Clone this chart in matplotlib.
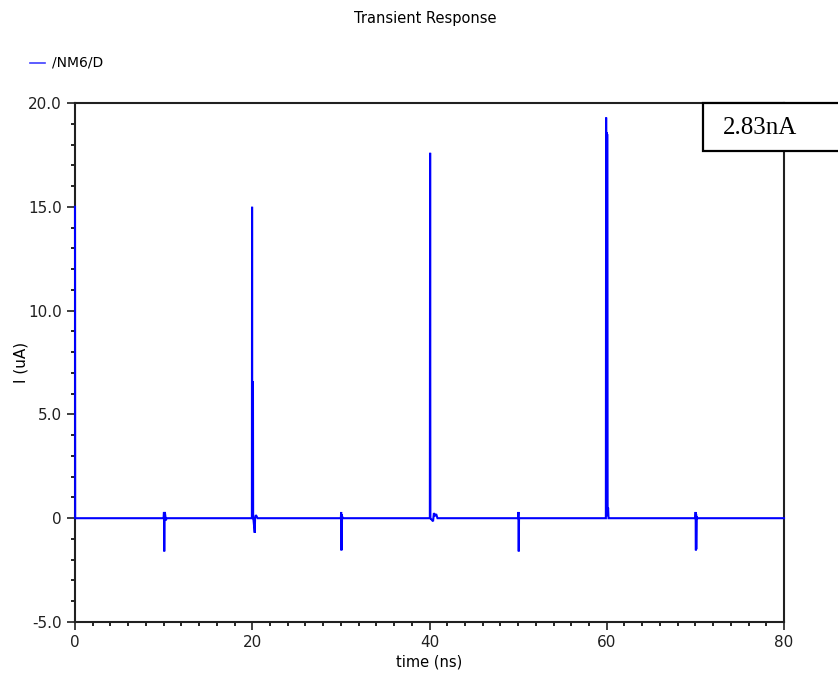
import matplotlib
matplotlib.use('Agg')
import matplotlib.pyplot as plt
from matplotlib.patches import Rectangle
from matplotlib.ticker import MultipleLocator

# transient current (time in ns, current in uA)
time_ns = [0.0, 0.02,
           10.0, 10.04, 10.07, 10.1, 10.14, 10.25, 10.35,
           19.96, 19.98, 20.0, 20.03, 20.05, 20.08, 20.1, 20.28, 20.32, 20.4, 20.48, 20.6,
           30.0, 30.03, 30.06, 30.08, 30.1, 30.13, 30.2,
           40.04, 40.07, 40.1, 40.4, 40.5, 40.6, 40.75, 40.9,
           50.0, 50.04, 50.07, 50.1, 50.2,
           59.9, 59.93, 59.96, 59.99, 60.02, 60.05, 60.1, 60.15, 60.2, 60.3,
           70.0, 70.03, 70.06, 70.08, 70.1, 70.13, 70.2,
           80.0]
current_ua = [15.0, 0.0,
              0.0, 0.3, -1.6, -0.15, 0.3, -0.1, 0.0,
              0.0, 15.0, 0.3, 6.6, 0.2, 6.5, 0.1, -0.7, 0.0, 0.15, 0.1, 0.0,
              0.0, 0.3, -1.55, 0.2, -1.5, 0.1, 0.0,
              0.0, 17.6, 0.0, -0.15, 0.25, 0.1, 0.2, 0.0,
              0.0, 0.3, -1.6, 0.0, 0.0,
              0.0, 19.3, 0.2, 18.6, 0.3, 18.5, 0.1, 0.5, 0.0, 0.0,
              0.0, 0.3, -1.55, 0.2, -1.5, 0.1, 0.0,
              0.0]

x_ticks = [0, 20, 40, 60, 80]
y_ticks = [-5, 0, 5, 10, 15, 20]
y_tick_labels = ['-5.0', '0', '5.0', '10.0', '15.0', '20.0']
signal_name = '/NM6/D'
marker_text = '2.83nA'

fig = plt.figure(figsize=(8.38, 6.8), dpi=100)
ax = fig.add_axes([75 / 838, 58 / 680, 709 / 838, 519 / 680])

ax.plot(time_ns, current_ua, color='#0000ff', lw=1.5, solid_joinstyle='miter',
        zorder=3, clip_on=False)

ax.set_xlim(0, 80)
ax.set_ylim(-5, 20)
ax.set_xticks(x_ticks)
ax.set_xticklabels([str(v) for v in x_ticks])
ax.set_yticks(y_ticks)
ax.set_yticklabels(y_tick_labels)
ax.xaxis.set_minor_locator(MultipleLocator(2))
ax.yaxis.set_minor_locator(MultipleLocator(1))
ax.tick_params(which='major', direction='out', length=6, width=1.2, labelsize=11,
               colors='#202020')
ax.tick_params(which='minor', direction='out', length=3, width=1.2)

for sp in ax.spines.values():
    sp.set_linewidth(1.5)
    sp.set_color('#202020')

ax.set_xlabel('time (ns)', fontsize=10.5, labelpad=3)
ax.set_ylabel('I (uA)', fontsize=11, labelpad=0)

fig.text(425 / 838, 1 - 18 / 680, 'Transient Response', ha='center', va='center',
         fontsize=10.5)

# legend entry at the top left
fig.add_artist(plt.Line2D([30 / 838, 45 / 838], [1 - 63 / 680, 1 - 63 / 680],
                          color='#4040ff', lw=1.2))
fig.text(52 / 838, 1 - 63 / 680, signal_name, ha='left', va='center', fontsize=10)

# marker box over the top right corner
fig.add_artist(Rectangle((703 / 838, 1 - 151 / 680), 140 / 838, 48 / 680,
                         transform=fig.transFigure, facecolor='white',
                         edgecolor='black', lw=1.6, zorder=10))
fig.text(723 / 838, 1 - 128 / 680, marker_text, ha='left', va='center',
         fontsize=18, family=['Liberation Serif', 'DejaVu Serif'], zorder=11)

fig.savefig('out.png', dpi=100)
